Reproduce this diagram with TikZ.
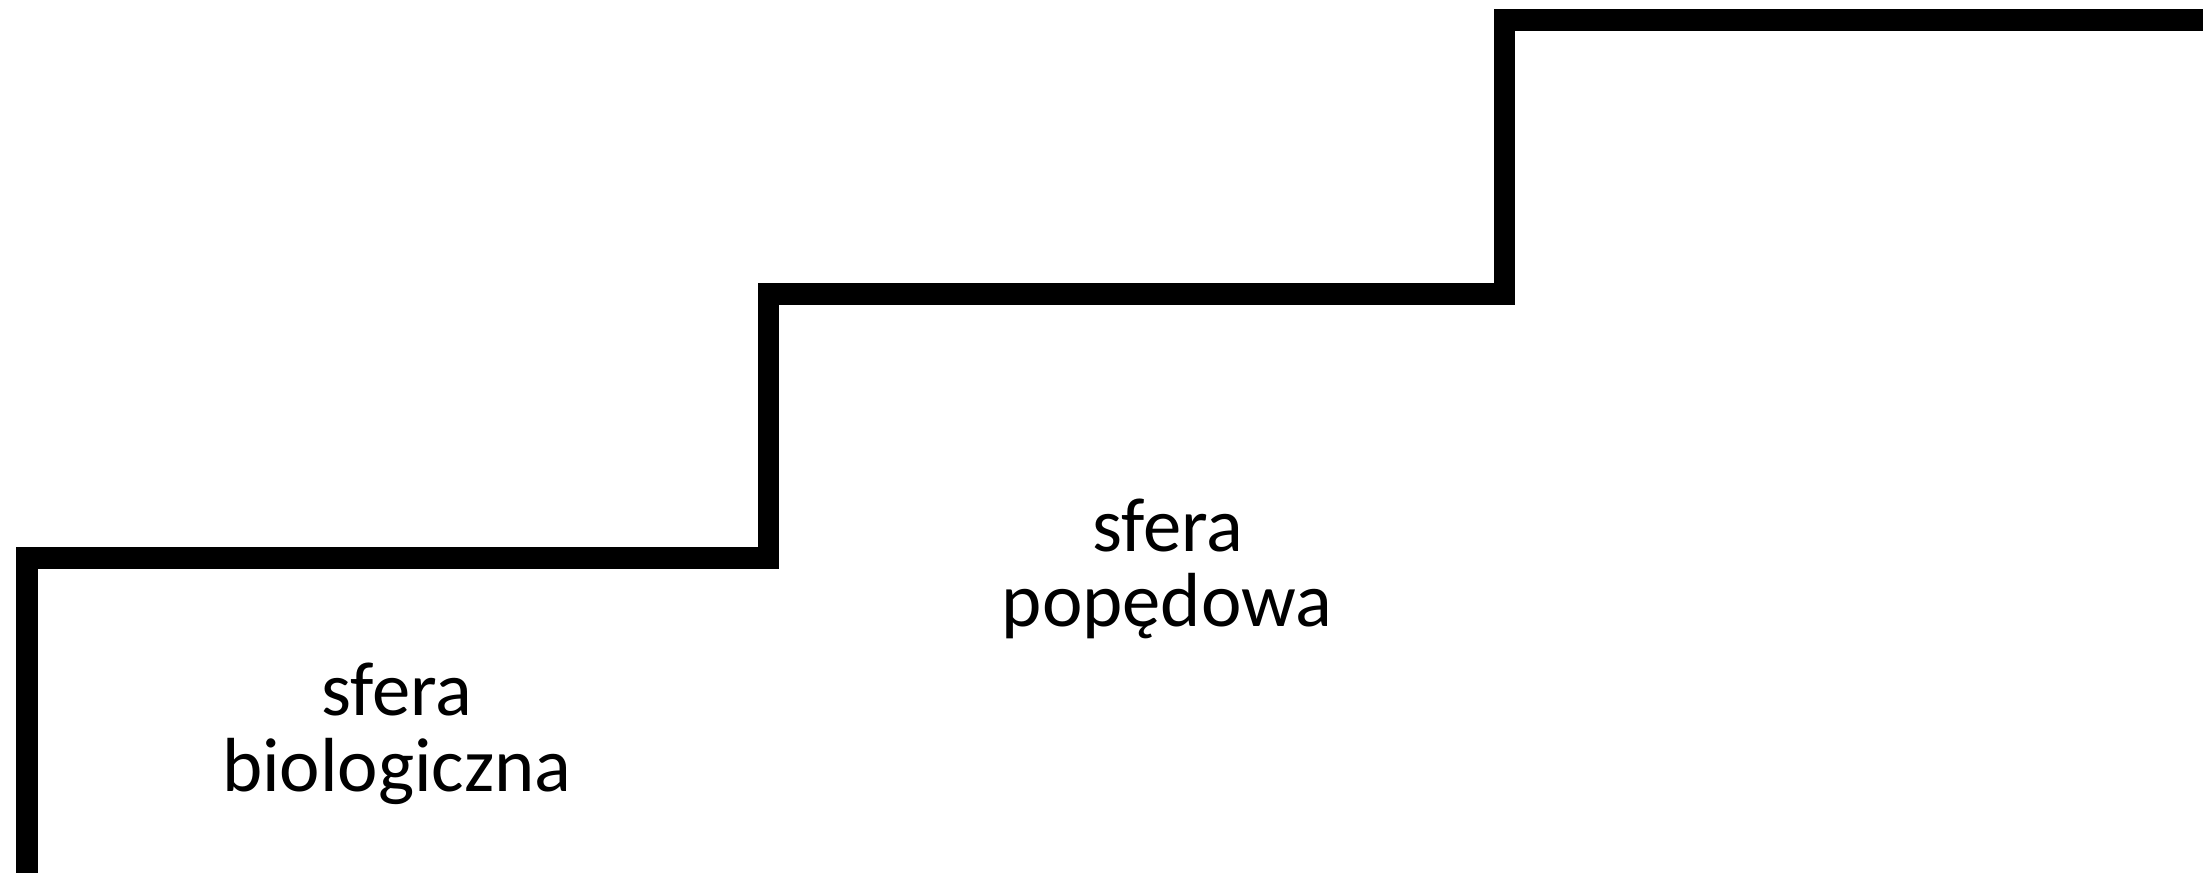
\documentclass[tikz,border=0pt]{standalone}
\usepackage{fontspec}
\setmainfont{Carlito}
\begin{document}
\begin{tikzpicture}[x=0.01cm,y=-0.01cm,
  stair/.style={line width=0.214cm, line join=miter, line cap=butt, draw=black},
  lbl/.style={anchor=base, inner sep=0pt, font=\fontsize{21.8}{26}\selectfont}]
\useasboundingbox (0,0) rectangle (2208,873);
\coordinate (s0) at (26.8,900);
\coordinate (s1) at (26.8,558.2);
\coordinate (s2) at (768.2,558.2);
\coordinate (s3) at (768.2,293.8);
\coordinate (s4) at (1504.2,293.8);
\coordinate (s5) at (1504.2,20);
\coordinate (s6) at (2203.3,20);
\draw[stair] (s0) -- (s1) -- (s2) -- (s3) -- (s4) -- (s5) -- (s6);
\node[lbl] (b1) at (397,715) {sfera};
\node[lbl] (b2) at (397,791.7) {biologiczna};
\node[lbl] (p1) at (1168,551.7) {sfera};
\node[lbl] (p2) at (1167,626) {popędowa};
\end{tikzpicture}
\end{document}
